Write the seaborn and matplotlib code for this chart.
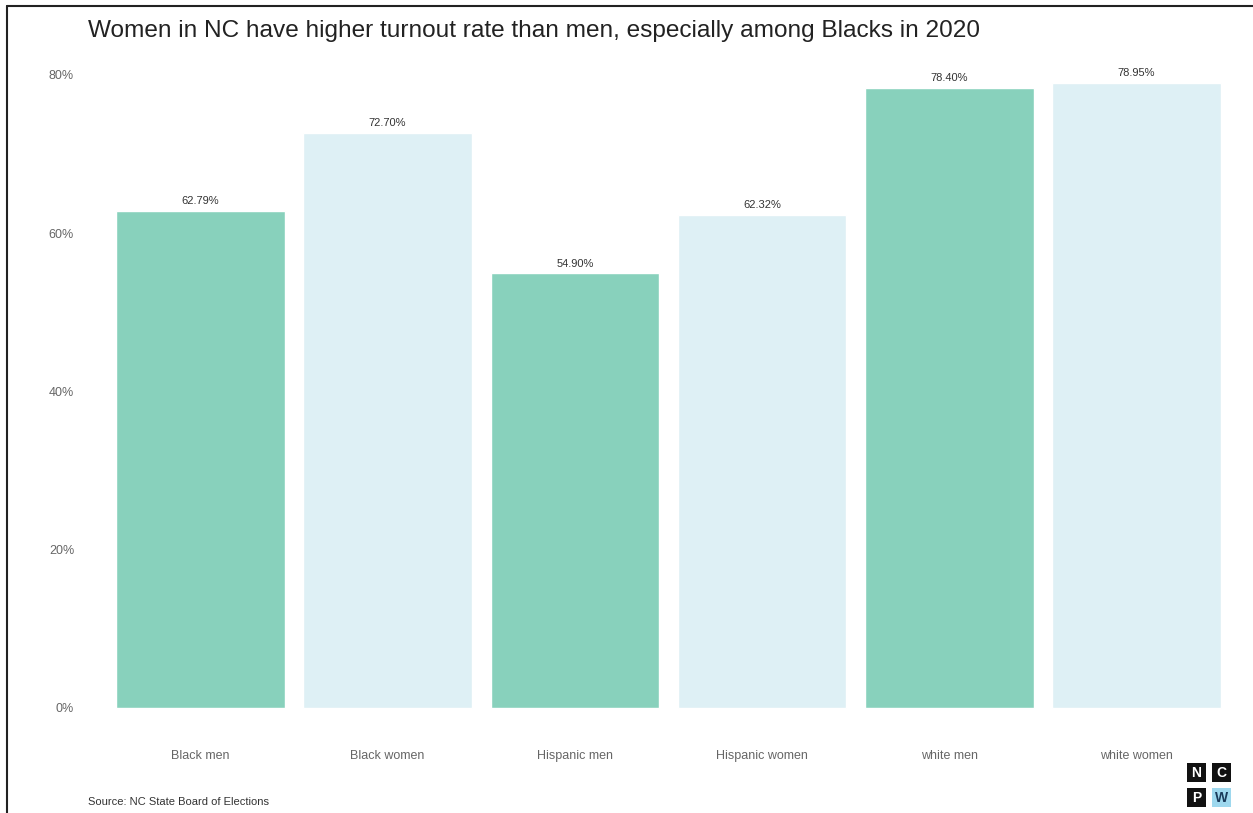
import matplotlib
matplotlib.use("Agg")
import matplotlib.pyplot as plt
import seaborn as sns
import pandas as pd
from matplotlib.patches import Rectangle
from matplotlib.lines import Line2D

groups = ["Black men", "Black women", "Hispanic men", "Hispanic women", "white men", "white women"]
turnout = [62.79, 72.70, 54.90, 62.32, 78.40, 78.95]
sex = ["men", "women", "men", "women", "men", "women"]
y_ticks = [0, 20, 40, 60, 80]
y_tick_labels = ["0%", "20%", "40%", "60%", "80%"]

palette = {"men": "#88D1BC", "women": "#DEF0F5"}

df = pd.DataFrame({"group": groups, "turnout": turnout, "sex": sex})

sns.set_theme(style="white")
plt.rcParams["font.family"] = ["Liberation Sans", "DejaVu Sans"]

fig = plt.figure(figsize=(12.53, 8.13), dpi=100)
ax = fig.add_axes([88 / 1253, 74 / 813, (1249 - 88) / 1253, (739 - 52) / 813])

sns.barplot(data=df, x="group", y="turnout", hue="sex", palette=palette,
            dodge=False, width=0.9, legend=False, ax=ax, saturation=1)

for i, v in enumerate(turnout):
    ax.text(i, v + 0.6, f"{v:.2f}%", ha="center", va="bottom", fontsize=8, color="#333333")

ax.set_xlim(-0.6, 5.6)
top = max(turnout)
ax.set_ylim(-0.05 * top, top * 1.05)
ax.set_yticks(y_ticks)
ax.set_yticklabels(y_tick_labels)
ax.set_xlabel("")
ax.set_ylabel("")
ax.tick_params(axis="both", length=0, labelsize=9, labelcolor="#666666")
ax.tick_params(axis="y", pad=10)
ax.tick_params(axis="x", pad=8)
for s in ax.spines.values():
    s.set_visible(False)
ax.grid(False)

fig.text(88 / 1253, 1 - 31 / 813, "Women in NC have higher turnout rate than men, especially among Blacks in 2020",
         fontsize=17.6, color="#222222", ha="left", va="center")
fig.text(88 / 1253, 1 - 802 / 813, "Source: NC State Board of Elections",
         fontsize=8, color="#333333", ha="left", va="center")

# outer frame on top and left
fig.add_artist(Line2D([7 / 1253, 7 / 1253], [0, 1 - 6 / 813], color="#222222", lw=1.5))
fig.add_artist(Line2D([7 / 1253, 1], [1 - 6 / 813, 1 - 6 / 813], color="#222222", lw=1.5))

# NCPW logo tiles
tiles = [("N", 1187, 763, "#111111", "white"), ("C", 1212, 763, "#111111", "white"),
         ("P", 1187, 788, "#111111", "white"), ("W", 1212, 788, "#9ED8EE", "#1a3a5a")]
for letter, x0, y0, bg, fg in tiles:
    w = 19
    fig.add_artist(Rectangle((x0 / 1253, 1 - (y0 + w) / 813), w / 1253, w / 813,
                             facecolor=bg, edgecolor="none", transform=fig.transFigure))
    fig.text((x0 + w / 2) / 1253, 1 - (y0 + w / 2) / 813, letter, color=fg,
             fontsize=10, fontweight="bold", ha="center", va="center")

fig.savefig("out.png", dpi=100)
